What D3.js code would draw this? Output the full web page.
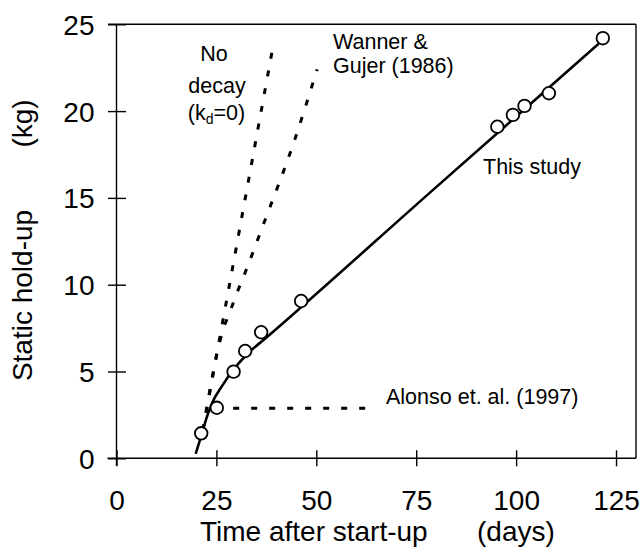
<!DOCTYPE html>
<html>
<head>
<meta charset="utf-8">
<script src="https://cdn.jsdelivr.net/npm/d3@7"></script>
<style>
  html, body { margin: 0; padding: 0; background: #fff; }
  svg { display: block; font-family: "Liberation Sans", Arial, sans-serif; }
</style>
</head>
<body>
<svg id="chart" width="641" height="547"></svg>
<script>
// ---- data ----
const xTicks = [0, 25, 50, 75, 100, 125];
const yTicks = [0, 5, 10, 15, 20, 25];

// measured static hold-up (days, kg)
const obsDays = [21.2, 25.1, 29.3, 32.2, 36.2, 46.2, 95.3, 99.2, 102.1, 108.2, 121.7];
const obsKg   = [1.44, 2.91, 4.99, 6.18, 7.26, 9.06, 19.1, 19.78, 20.3, 21.03, 24.2];

// model fit "This study" (solid)
const fitDays = [19.9, 21.4, 22.5, 23.9, 26.4, 28.9, 32.6, 37.6, 79.0, 120.5];
const fitKg   = [0.32, 1.44, 2.3, 3.17, 4.16, 5.0, 5.98, 6.97, 15.42, 23.85];

// "No decay (kd=0)" (dashed)
const noDecayDays = [21.6, 39.3];
const noDecayKg   = [1.6, 23.9];

// "Wanner & Gujer (1986)" (dashed)
const wgDays = [21.6, 23.5, 25.2, 26.6, 28.4, 30.1, 32.2, 36.8, 44.3, 50.2];
const wgKg   = [1.6, 4.1, 6.1, 7.35, 8.45, 9.5, 10.7, 13.5, 18.15, 22.4];

// "Alonso et. al. (1997)" (dashed)
const alonsoDays = [29.2, 64.7];
const alonsoKg   = [2.88, 2.88];

// ---- layout ----
const svg = d3.select("#chart");
const x = d3.scaleLinear().domain([0, 130]).range([116.5, 636]);
const y = d3.scaleLinear().domain([0, 25]).range([458.3, 24.3]);

const axisColor = "#000";
const axisW = 1.4;

// frame lines
const frame = svg.append("g").attr("stroke", axisColor).attr("stroke-width", axisW);
frame.append("line").attr("x1", x(0) - 9).attr("x2", x(130)).attr("y1", y(0)).attr("y2", y(0));
frame.append("line").attr("x1", x(0) - 8.5).attr("x2", x(130)).attr("y1", y(25)).attr("y2", y(25));
frame.append("line").attr("x1", x(0)).attr("x2", x(0)).attr("y1", y(25)).attr("y2", y(0) + 7.5);
frame.append("line").attr("x1", x(130)).attr("x2", x(130)).attr("y1", y(25)).attr("y2", y(0));

// x axis
const gx = svg.append("g").attr("transform", `translate(0,${y(0)})`)
  .call(d3.axisBottom(x).tickValues(xTicks).tickFormat(d3.format("d")).tickSize(8).tickPadding(0));
gx.select(".domain").remove();
gx.selectAll(".tick line").attr("y1", -8).attr("y2", 8).attr("stroke-width", axisW);
gx.selectAll(".tick text").attr("y", 51.5).attr("dy", 0)
  .attr("font-size", 28).attr("font-family", "Liberation Sans, Arial, sans-serif").attr("fill", "#000");

// y axis
const gy = svg.append("g").attr("transform", `translate(${x(0)},0)`)
  .call(d3.axisLeft(y).tickValues(yTicks).tickFormat(d3.format("d")).tickSize(9).tickPadding(0));
gy.select(".domain").remove();
gy.selectAll(".tick line").attr("x1", -8.5).attr("x2", 9.5).attr("stroke-width", axisW);
gy.selectAll(".tick text").attr("x", -22).attr("dy", "0.36em")
  .attr("font-size", 28).attr("font-family", "Liberation Sans, Arial, sans-serif").attr("fill", "#000");

// axis titles
svg.append("text").attr("x", 200).attr("y", 540.5).attr("font-size", 28).text("Time after start-up");
svg.append("text").attr("x", 477).attr("y", 540.5).attr("font-size", 28).text("(days)");
svg.append("text").attr("transform", "translate(32,295.5) rotate(-90)")
  .attr("text-anchor", "middle").attr("font-size", 28).text("Static hold-up");
svg.append("text").attr("transform", "translate(32,123.5) rotate(-90)")
  .attr("text-anchor", "middle").attr("font-size", 28).text("(kg)");

// lines
const zip = (a, b) => a.map((d, i) => [d, b[i]]);
const lineGen = d3.line().x(d => x(d[0])).y(d => y(d[1]));
const smooth = d3.line().x(d => x(d[0])).y(d => y(d[1])).curve(d3.curveMonotoneX);

const dashStyle = g => g.attr("fill", "none").attr("stroke", "#000")
  .attr("stroke-width", 3).attr("stroke-dasharray", "6,12");

svg.append("path").datum(zip(noDecayDays, noDecayKg)).attr("d", lineGen).call(dashStyle);
svg.append("path").datum(zip(wgDays, wgKg)).attr("d", smooth).call(dashStyle);
svg.append("path").datum(zip(alonsoDays, alonsoKg)).attr("d", lineGen).call(dashStyle);

svg.append("path").datum(zip(fitDays, fitKg)).attr("d", smooth)
  .attr("fill", "none").attr("stroke", "#000").attr("stroke-width", 2.6)
  .attr("stroke-linecap", "round");

// observations
svg.append("g").selectAll("circle").data(zip(obsDays, obsKg)).join("circle")
  .attr("cx", d => x(d[0])).attr("cy", d => y(d[1])).attr("r", 6.3)
  .attr("fill", "#fff").attr("stroke", "#000").attr("stroke-width", 1.8);

// annotations
const ann = svg.append("g").attr("font-size", 21.5).attr("fill", "#000");
ann.append("text").attr("x", 214).attr("y", 61).attr("text-anchor", "middle").text("No");
ann.append("text").attr("x", 217).attr("y", 92.5).attr("text-anchor", "middle").text("decay");
const kd = ann.append("text").attr("x", 216.5).attr("y", 119.5).attr("text-anchor", "middle");
kd.append("tspan").text("(k");
kd.append("tspan").attr("font-size", 14).attr("dy", 4).text("d");
kd.append("tspan").attr("dy", -4).text("=0)");
ann.append("text").attr("x", 333).attr("y", 48.5).text("Wanner &");
ann.append("text").attr("x", 333).attr("y", 72.5).text("Gujer (1986)");
ann.append("text").attr("x", 483).attr("y", 173.5).text("This study");
ann.append("text").attr("x", 386).attr("y", 403.5).text("Alonso et. al. (1997)");
</script>
</body>
</html>
